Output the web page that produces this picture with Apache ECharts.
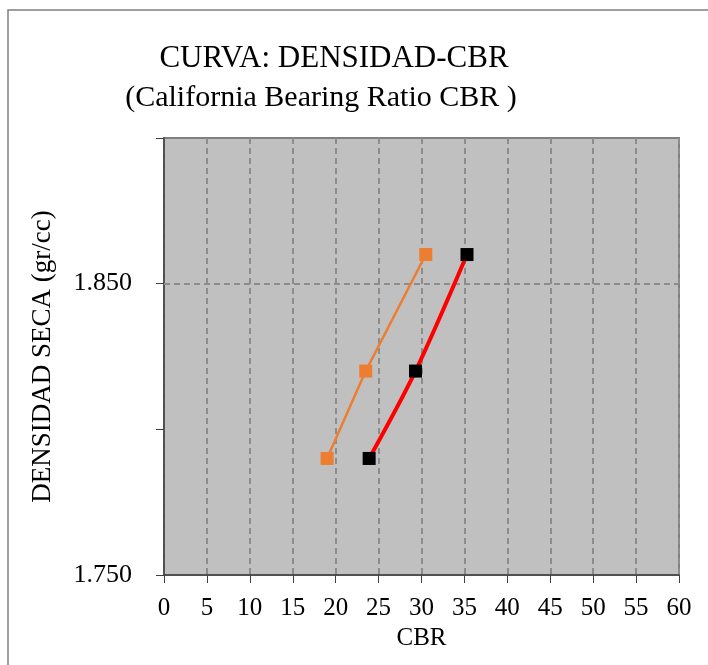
<!DOCTYPE html>
<html>
<head>
<meta charset="utf-8">
<script src="https://cdn.jsdelivr.net/npm/echarts@6/dist/echarts.min.js"></script>
<style>
  html, body { margin: 0; padding: 0; background: #fff; }
  #chart { width: 708px; height: 665px; }
</style>
</head>
<body>
<div id="chart"></div>
<script>
// datos
const cbrUnsoaked = [19.0, 23.5, 30.5];
const cbrSoaked = [23.9, 29.3, 35.3];
const densidad = [1.790, 1.820, 1.860];
const yLabels = ['1.750', '1.850'];
const gridY = 1.85;

const font = 'Liberation Serif';
const myChart = echarts.init(document.getElementById('chart'));

myChart.setOption({
    animation: false,
    title: [
        {
            text: 'CURVA: DENSIDAD-CBR',
            left: 329,
            top: 38,
            textAlign: 'center',
            textStyle: { fontFamily: font, fontSize: 31, fontWeight: 'normal', color: '#000' }
        },
        {
            text: '(California Bearing Ratio CBR )',
            left: 316,
            top: 78,
            textAlign: 'center',
            textStyle: { fontFamily: font, fontSize: 30, fontWeight: 'normal', color: '#000' }
        }
    ],
    graphic: [
        {
            type: 'rect',
            shape: { x: 8, y: 10, width: 740, height: 700 },
            style: { fill: 'none', stroke: '#808080', lineWidth: 1.5 },
            silent: true
        }
    ],
    grid: {
        left: 164,
        right: 29,
        top: 138,
        bottom: 90,
        show: true,
        backgroundColor: '#c0c0c0',
        borderColor: '#808080',
        borderWidth: 2
    },
    xAxis: {
        type: 'value',
        min: 0,
        max: 60,
        interval: 5,
        name: 'CBR',
        nameLocation: 'middle',
        nameGap: 46,
        nameTextStyle: { fontFamily: font, fontSize: 25, color: '#000' },
        axisLine: { lineStyle: { color: '#404040', width: 1.5 } },
        axisTick: { show: true, length: 8, lineStyle: { color: '#404040' } },
        axisLabel: { fontFamily: font, fontSize: 25, color: '#000', margin: 21 },
        splitLine: { show: true, lineStyle: { color: '#8c8c8c', width: 2, type: [6, 4] } }
    },
    yAxis: {
        type: 'value',
        min: 1.75,
        max: 1.90,
        interval: 0.05,
        name: 'DENSIDAD SECA (gr/cc)',
        nameLocation: 'middle',
        nameGap: 108,
        nameTextStyle: { fontFamily: font, fontSize: 27, color: '#000' },
        axisLine: { show: true, lineStyle: { color: '#404040', width: 1.5 } },
        axisTick: { show: true, length: 8, lineStyle: { color: '#404040' } },
        axisLabel: {
            fontFamily: font, fontSize: 26, color: '#000', margin: 32,
            formatter: function (v) {
                const s = v.toFixed(3);
                return yLabels.indexOf(s) >= 0 ? s : '';
            }
        },
        splitLine: { show: false }
    },
    series: [
        {
            name: 'CBR',
            type: 'line',
            data: cbrUnsoaked.map((x, i) => [x, densidad[i]]),
            symbol: 'rect',
            symbolSize: 13,
            itemStyle: { color: '#ed7d31' },
            lineStyle: { color: '#ed7d31', width: 2.5 },
            z: 3,
            markLine: {
                silent: true,
                symbol: 'none',
                label: { show: false },
                lineStyle: { color: '#8c8c8c', width: 2, type: [6, 4] },
                data: [{ yAxis: gridY }],
                z: 1
            }
        },
        {
            name: 'CBR 2',
            type: 'line',
            data: cbrSoaked.map((x, i) => [x, densidad[i]]),
            smooth: 0.3,
            symbol: 'rect',
            symbolSize: 13,
            itemStyle: { color: '#000' },
            lineStyle: { color: '#ff0000', width: 4 },
            z: 4
        }
    ]
});
</script>
</body>
</html>
